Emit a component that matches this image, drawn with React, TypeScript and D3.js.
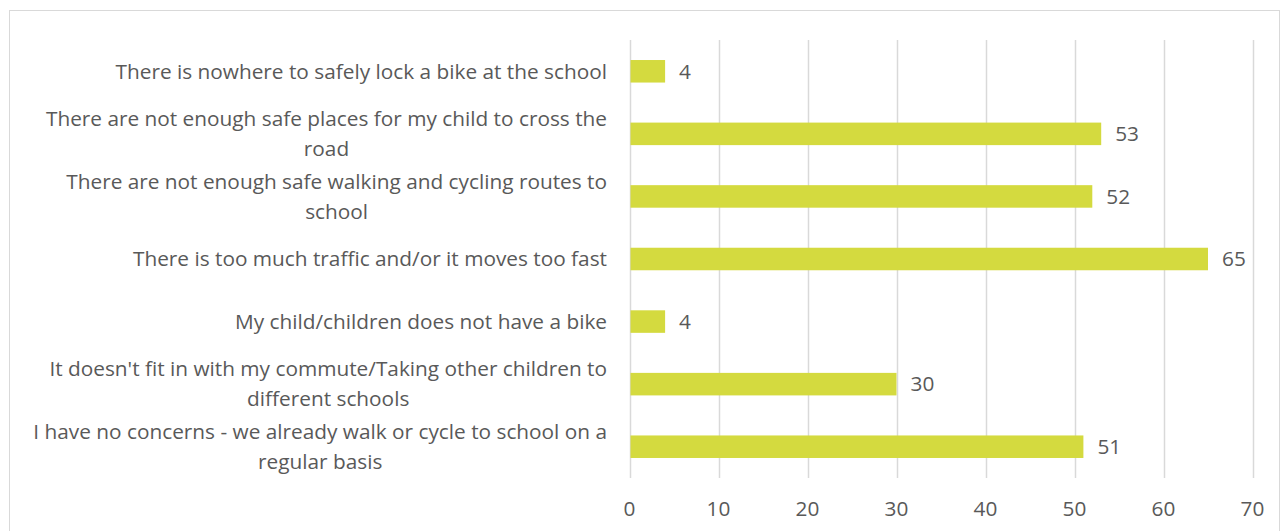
import React from "react";
import * as d3 from "d3";

const categories: string[][] = [
  ["There is nowhere to safely lock a bike at the school"],
  ["There are not enough safe places for my child to cross the", "road"],
  ["There are not enough safe walking and cycling routes to", "school"],
  ["There is too much traffic and/or it moves too fast"],
  ["My child/children does not have a bike"],
  ["It doesn't fit in with my commute/Taking other children to", "different schools"],
  ["I have no concerns - we already walk or cycle to school on a", "regular basis"],
];
const values: number[] = [4, 53, 52, 65, 4, 30, 51];
const ticks: number[] = [0, 10, 20, 30, 40, 50, 60, 70];

const W = 1281;
const H = 531;
const FONT = "'Open Sans', sans-serif";
const FS = 20.8;
const TEXT = "#595959";
const BAR = "#d4da3f";
const GRID = "#d9d9d9";

function measure(s: string): number {
  const c = document.createElement("canvas").getContext("2d")!;
  c.font = `${FS}px 'Open Sans'`;
  return c.measureText(s).width;
}

export default function App() {
  const x = d3.scaleLinear().domain([0, 70]).range([629.5, 1252.5]);
  const y = d3
    .scaleBand<number>()
    .domain(d3.range(categories.length))
    .range([40, 478])
    .paddingInner(0.64)
    .paddingOuter(0.32);
  const labelRight = 607;
  const lineH = 30;

  return (
    <svg
      width={W}
      height={H}
      style={{ position: "absolute", left: 0, top: 0, display: "block" }}
      fontFamily={FONT}
    >
      <rect x={0} y={0} width={W} height={H} fill="#fff" />
      <rect x={9.5} y={10.5} width={1270} height={530} fill="#fff" stroke={GRID} strokeWidth={1} />
      {ticks.map((t) => (
        <line key={t} x1={Math.round(x(t)) + 0.5} x2={Math.round(x(t)) + 0.5} y1={40} y2={478} stroke={GRID} strokeWidth={1.5} />
      ))}
      {values.map((v, i) => (
        <rect key={i} x={x(0) + 1} y={y(i)!} width={x(v) - x(0) - 1} height={y.bandwidth()} fill={BAR} />
      ))}
      {values.map((v, i) => (
        <text key={i} x={x(v) + 14} y={y(i)! + y.bandwidth() / 2} dy="0.35em" fontSize={FS} fill={TEXT}>
          {v}
        </text>
      ))}
      {categories.map((lines, i) => {
        const cy = y(i)! + y.bandwidth() / 2;
        const maxW = Math.max(...lines.map(measure));
        const cx = labelRight - maxW / 2;
        return lines.map((l, j) => (
          <text
            key={`${i}-${j}`}
            x={lines.length === 1 ? labelRight : cx}
            y={cy + (j - (lines.length - 1) / 2) * lineH}
            dy="0.35em"
            textAnchor={lines.length === 1 ? "end" : "middle"}
            fontSize={FS}
            fill={TEXT}
          >
            {l}
          </text>
        ));
      })}
      {ticks.map((t) => (
        <text key={t} x={x(t)} y={509} dy="0.35em" textAnchor="middle" fontSize={FS} fill={TEXT}>
          {t}
        </text>
      ))}
    </svg>
  );
}
